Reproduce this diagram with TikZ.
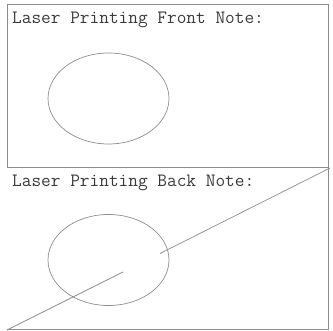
\documentclass[tikz,border=0pt]{standalone}
\usetikzlibrary{positioning,shapes.geometric}
\definecolor{notegray}{HTML}{8C8C8C}
\definecolor{notetext}{HTML}{3A3A3A}

\begin{document}
\begin{tikzpicture}[x=1pt,y=-1pt,
  frame/.style={draw=notegray,line width=0.9pt},
  oval/.style={ellipse,draw=notegray,line width=0.7pt,inner sep=0pt,
               minimum width=121pt,minimum height=91pt},
  cut/.style={draw=notegray,line width=0.7pt},
  ttl/.style={anchor=base west,inner sep=0pt,text=notetext,
              font=\fontsize{18.8}{20}\selectfont\ttfamily}
]
\useasboundingbox (0,0) rectangle (333,331);

% ---- Front note ---------------------------------------------
\draw[frame] (7,4) rectangle (328.5,167);
\node[ttl] (fronttitle) at (12,24) {Laser Printing Front Note:};
\node[oval] (frontoval) at (108.5,98.5) {};

% ---- Back note ----------------------------------------------
\draw[frame] (328.5,167) -- (328.5,329) -- (7,329);
\node[ttl] (backtitle) at (12,187) {Laser Printing Back Note:};
\node[oval] (backoval) at (108.5,260) {};

% Diagonal cut through the back note
\coordinate (cutlow)  at (7,330);
\coordinate (cutmidA) at (123,272);
\coordinate (cutmidB) at (160,253.5);
\coordinate (cuthigh) at (330,168);
\draw[cut] (cutlow) -- (cutmidA);
\draw[cut] (cutmidB) -- (cuthigh);

\end{tikzpicture}
\end{document}
